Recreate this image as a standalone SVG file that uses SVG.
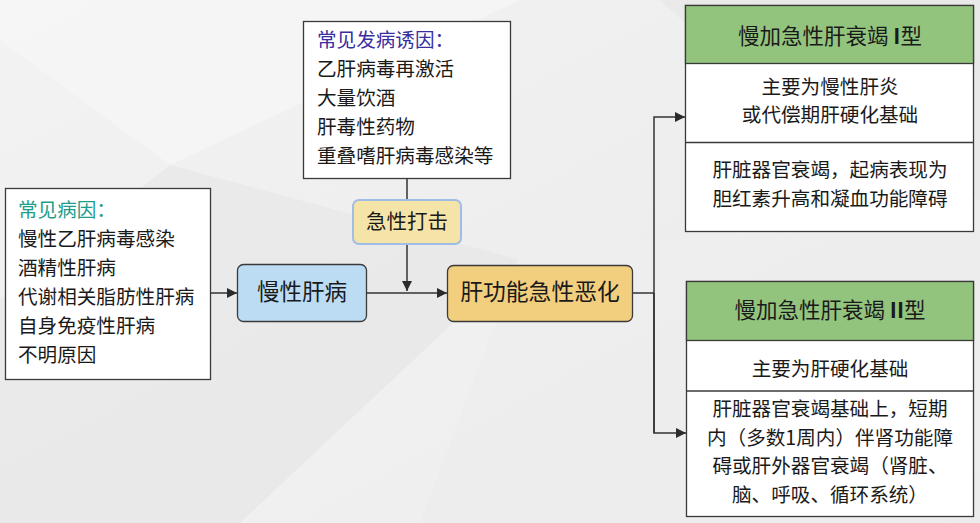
<svg xmlns="http://www.w3.org/2000/svg" width="980" height="523" viewBox="0 0 980 523">
<defs>
<linearGradient id="bg" x1="0" y1="0" x2="1" y2="1">
<stop offset="0" stop-color="#f3f3f3"/>
<stop offset="1" stop-color="#e9e9e9"/>
</linearGradient>
<marker id="arr" viewBox="0 0 10 10" refX="10" refY="5" markerWidth="10" markerHeight="10" markerUnits="userSpaceOnUse" orient="auto">
<path d="M0,0 L10,5 L0,10 z" fill="#2b2b2b"/>
</marker>
<style>
text{font-family:"Noto Sans CJK SC","Noto Sans",sans-serif;fill:#1a1a1a;}
.body{font-size:19.6px;}
.big{font-size:22.5px;}
.hd{font-size:21.5px;}
.box{fill:#fff;stroke:#3a3a3a;stroke-width:1.3;}
.con{fill:none;stroke:#333;stroke-width:1.5;}
.mid{text-anchor:middle;}
</style>
</defs>
<rect width="980" height="523" fill="url(#bg)"/>
<polygon points="0,0 520,0 170,165 0,40" fill="#f6f6f6" opacity="0.7"/>
<polygon points="0,300 170,165 520,260 240,523 0,523" fill="#e6e6e6" opacity="0.6"/>
<polygon points="520,260 980,200 980,523 420,523" fill="#efefef" opacity="0.6"/>
<polygon points="660,0 980,0 980,200 760,90" fill="#e4e4e4" opacity="0.5"/>
<polygon points="240,523 420,523 520,260" fill="#f2f2f2" opacity="0.6"/>

<g id="connectors">
<line class="con" x1="407" y1="179" x2="407" y2="200"/>
<line class="con" x1="407" y1="244" x2="407" y2="291" marker-end="url(#arr)"/>
<line class="con" x1="211" y1="293" x2="237" y2="293" marker-end="url(#arr)"/>
<line class="con" x1="367" y1="293" x2="447" y2="293" marker-end="url(#arr)"/>
<line class="con" x1="633" y1="293" x2="654" y2="293"/>
<polyline class="con" points="654,433 654,117 685,117" marker-end="url(#arr)"/>
<polyline class="con" points="654,293 654,433 686,433" marker-end="url(#arr)"/>
</g>

<g id="triggers">
<rect class="box" x="303.5" y="21.5" width="207" height="157"/>
<text class="body" x="317" y="47" style="fill:#3a2e9e">常见发病诱因：</text>
<text class="body" x="317" y="76">乙肝病毒再激活</text>
<text class="body" x="317" y="105">大量饮酒</text>
<text class="body" x="317" y="134">肝毒性药物</text>
<text class="body" x="317" y="163">重叠嗜肝病毒感染等</text>
</g>

<g id="acute-hit">
<rect x="353" y="200" width="108" height="44" rx="6" fill="#f5e4a8" stroke="#9fbde6" stroke-width="2"/>
<text class="mid" x="407" y="229" style="font-size:20.5px">急性打击</text>
</g>

<g id="causes">
<rect class="box" x="5.5" y="188.5" width="205" height="191"/>
<text class="body" x="18" y="217" style="fill:#1f9d8c">常见病因：</text>
<text class="body" x="18" y="246">慢性乙肝病毒感染</text>
<text class="body" x="18" y="275">酒精性肝病</text>
<text class="body" x="18" y="304">代谢相关脂肪性肝病</text>
<text class="body" x="18" y="333">自身免疫性肝病</text>
<text class="body" x="18" y="362">不明原因</text>
</g>

<g id="chronic">
<rect x="237.5" y="264.5" width="129" height="57" rx="6" fill="#bcdcf4" stroke="#3a3a3a" stroke-width="1.3"/>
<text class="mid big" x="302" y="300">慢性肝病</text>
</g>

<g id="deterioration">
<rect x="447.5" y="265.5" width="185" height="56" rx="6" fill="#f2cf7e" stroke="#3a3a3a" stroke-width="1.3"/>
<text class="mid" x="540" y="300" style="font-size:22.8px">肝功能急性恶化</text>
</g>

<g id="aclf-type1">
<rect class="box" x="685.5" y="5.5" width="288" height="226"/>
<rect x="685.5" y="5.5" width="288" height="58" fill="#93c47d" stroke="#3a3a3a" stroke-width="1.3"/>
<line x1="685.5" y1="142.5" x2="973.5" y2="142.5" stroke="#3a3a3a" stroke-width="1.3"/>
<text class="mid hd" x="830" y="44">慢加急性肝衰竭 <tspan font-weight="bold">I</tspan>型</text>
<text class="mid body" x="830" y="94">主要为慢性肝炎</text>
<text class="mid body" x="830" y="122">或代偿期肝硬化基础</text>
<text class="mid body" x="830" y="177">肝脏器官衰竭，起病表现为</text>
<text class="mid body" x="830" y="206">胆红素升高和凝血功能障碍</text>
</g>

<g id="aclf-type2">
<rect class="box" x="686.5" y="281.5" width="287" height="235"/>
<rect x="686.5" y="281.5" width="287" height="59" fill="#93c47d" stroke="#3a3a3a" stroke-width="1.3"/>
<line x1="686.5" y1="391" x2="973.5" y2="391" stroke="#3a3a3a" stroke-width="1.3"/>
<text class="mid hd" x="830" y="318">慢加急性肝衰竭 <tspan font-weight="bold">II</tspan>型</text>
<text class="mid body" x="830" y="376">主要为肝硬化基础</text>
<text class="mid body" x="830" y="416">肝脏器官衰竭基础上，短期</text>
<text class="mid body" x="830" y="445">内（多数1周内）伴肾功能障</text>
<text class="mid body" x="830" y="473">碍或肝外器官衰竭（肾脏、</text>
<text class="mid body" x="830" y="502">脑、呼吸、循环系统）</text>
</g>
</svg>
